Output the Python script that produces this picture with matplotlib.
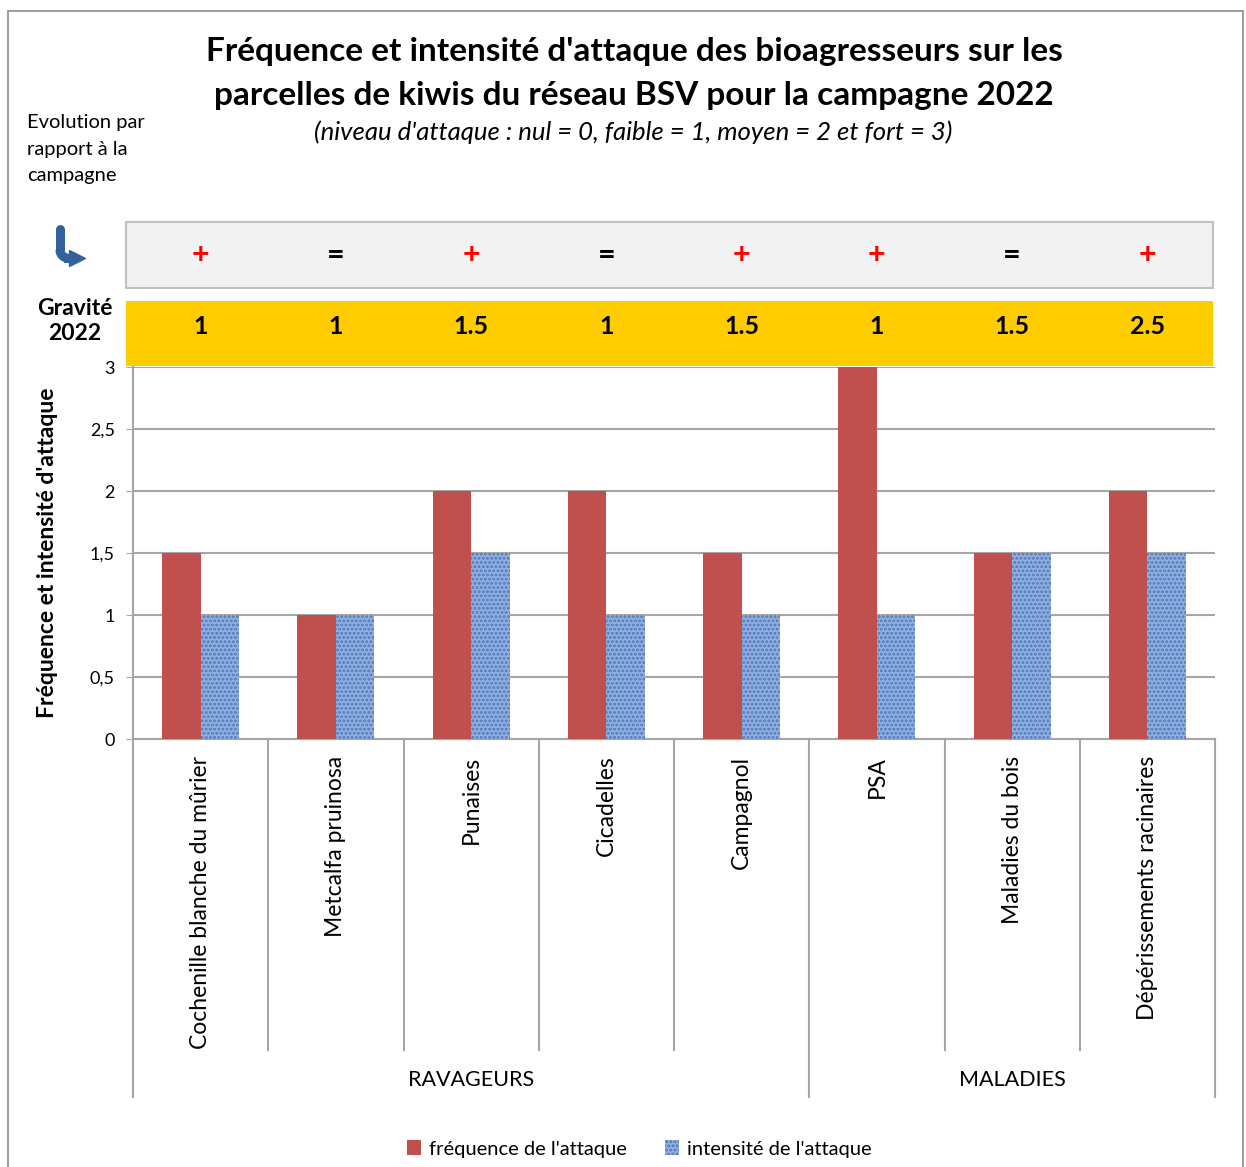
import matplotlib
matplotlib.use('Agg')
import numpy as np
import matplotlib.pyplot as plt
from matplotlib.patches import Rectangle
from matplotlib.lines import Line2D
from matplotlib.transforms import blended_transform_factory

plt.rcParams['font.family'] = ['Lato', 'DejaVu Sans']

# data
categories = ["Cochenille blanche du mûrier", "Metcalfa pruinosa", "Punaises", "Cicadelles",
              "Campagnol", "PSA", "Maladies du bois", "Dépérissements racinaires"]
frequence = [1.5, 1, 2, 2, 1.5, 3, 1.5, 2]
intensite = [1, 1, 1.5, 1, 1, 1, 1.5, 1.5]
evolution = ["+", "=", "+", "=", "+", "+", "=", "+"]
gravite = ["1", "1", "1.5", "1", "1.5", "1", "1.5", "2.5"]
groups = [("RAVAGEURS", 0, 4), ("MALADIES", 5, 7)]

W, H = 1246, 1167
fig = plt.figure(figsize=(W / 100, H / 100), dpi=100)

def fx(px): return px / W
def fy(py): return 1 - py / H

# outer border
fig.patches.append(Rectangle((fx(8), fy(1200)), fx(1243) - fx(8), fy(11) - fy(1200),
                             transform=fig.transFigure, fill=False, ec='#8c8c8c', lw=1.2))

ax = fig.add_axes([fx(133), fy(739), fx(1215) - fx(133), fy(367) - fy(739)])
x = np.arange(len(categories))
w = 0.285
red = '#C0504D'
bars1 = ax.bar(x - w / 2, frequence, w, color=red, label="fréquence de l'attaque", zorder=3)
plt.rcParams['hatch.linewidth'] = 1.4
bars2 = ax.bar(x + w / 2, intensite, w, color='#8EB0E3', edgecolor='#5476B5', hatch='....',
               linewidth=0, label="intensité de l'attaque", zorder=3)

ax.set_xlim(-0.5, len(categories) - 0.5)
ax.set_ylim(0, 3)
ax.set_yticks(np.arange(0, 3.01, 0.5))
ax.set_yticklabels(["0", "0,5", "1", "1,5", "2", "2,5", "3"], fontsize=13)
ax.yaxis.grid(True, color='#a6a6a6', lw=1.5, zorder=0)
ax.set_xticks([])
for s in ['top', 'right']:
    ax.spines[s].set_visible(False)
ax.spines['left'].set_color('#a6a6a6')
ax.spines['bottom'].set_color('#a6a6a6')
ax.spines['left'].set_linewidth(1.5)
ax.spines['bottom'].set_linewidth(1.5)
ax.tick_params(axis='y', length=5, color='#a6a6a6', pad=8)
ax.set_ylabel("Fréquence et intensité d'attaque", fontsize=16.5, fontweight='bold')
ax.yaxis.set_label_coords(-0.069, 0.5)

trans = blended_transform_factory(ax.transData, ax.transAxes)
# separators under the axis
bounds = {-0.5, 4.5, 7.5}
for b in np.arange(-0.5, len(categories), 1.0):
    y0 = -0.962 if b in bounds else -0.836
    ax.add_line(Line2D([b, b], [0, y0], transform=trans, color='#a6a6a6', lw=1.5, clip_on=False))
for i, c in enumerate(categories):
    ax.text(i, -0.045, c, transform=trans, rotation=90, ha='center', va='top', fontsize=16.5)
for name, a, b in groups:
    ax.text((a + b) / 2, -0.918, name, transform=trans, ha='center', va='center', fontsize=15.5)

# top boxes
ax.add_patch(Rectangle((-0.0065, 1.212), 1.0045, 0.178, transform=ax.transAxes, fc='#f2f2f2',
                       ec='#c0c0c0', lw=1.5, clip_on=False))
ax.add_patch(Rectangle((-0.0065, 1.003), 1.0045, 0.174, transform=ax.transAxes, fc='#FFCC00',
                       ec='none', clip_on=False))
for i, (e, g) in enumerate(zip(evolution, gravite)):
    ax.text(i, 1.301, e, transform=trans, ha='center', va='center', fontsize=22, fontweight='bold',
            color='#ff0000' if e == '+' else 'black')
    ax.text(i, 1.11, g, transform=trans, ha='center', va='center', fontsize=18, fontweight='bold')

# titles
fig.text(0.509, fy(52), "Fréquence et intensité d'attaque des bioagresseurs sur les",
         ha='center', va='center', fontsize=24, fontweight='bold')
fig.text(0.509, fy(95), "parcelles de kiwis du réseau BSV pour la campagne 2022",
         ha='center', va='center', fontsize=24, fontweight='bold')
fig.text(0.508, fy(132), "(niveau d'attaque : nul = 0, faible = 1, moyen = 2 et fort = 3)",
         ha='center', va='center', fontsize=18.5, style='italic')
fig.text(fx(27), fy(149), "Evolution par\nrapport à la\ncampagne", ha='left', va='center',
         fontsize=14.5, linespacing=1.65)
fig.text(fx(75), fy(321), "Gravité\n2022", ha='center', va='center', fontsize=16.5,
         fontweight='bold', linespacing=1.2)

# arrow icon
fig.add_artist(Line2D([fx(60), fx(60)], [fy(229), fy(250)], color='#34609C', lw=6.5,
                      solid_capstyle='round'))
t = np.linspace(np.pi, 1.5 * np.pi, 20)
fig.add_artist(Line2D(fx(68) + (8 / W) * np.cos(t), fy(250) + (8 / H) * np.sin(t),
                      color='#34609C', lw=6.5, solid_capstyle='butt'))
fig.add_artist(Line2D([fx(68), fx(72)], [fy(258), fy(258)], color='#34609C', lw=6.5))
fig.add_artist(Line2D([fx(77)], [fy(258)], marker='>', markersize=11, color='#34609C',
                      transform=fig.transFigure))

fig.legend(handles=[bars1, bars2], loc='center', bbox_to_anchor=(0.513, fy(1149)), ncol=2,
           frameon=False, fontsize=14.5, handlelength=0.7, handleheight=0.7, columnspacing=1.9,
           handletextpad=0.4)

fig.savefig("out.png", dpi=100)
